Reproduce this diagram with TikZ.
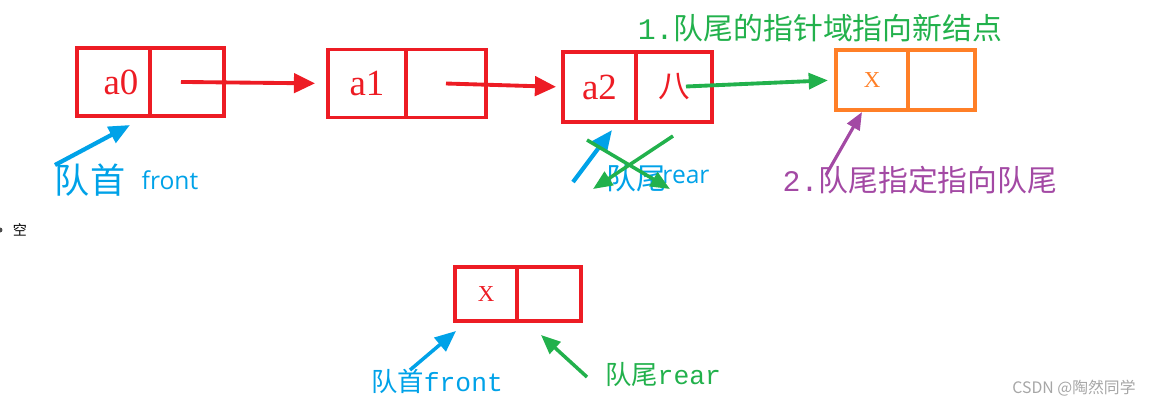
\documentclass[tikz,border=0pt]{standalone}
\usepackage{fontspec}
\setmainfont{Liberation Serif}
\newfontfamily\cjk{Noto Sans CJK SC}
\newfontfamily\mono{Liberation Mono}
\newfontfamily\sansf{Open Sans}
\usetikzlibrary{arrows.meta,positioning}
\definecolor{qred}{RGB}{237,28,36}
\definecolor{qblue}{RGB}{0,162,232}
\definecolor{qgreen}{RGB}{34,177,76}
\definecolor{qorange}{RGB}{255,127,39}
\definecolor{qpurple}{RGB}{163,73,164}
\newcommand{\fsz}[1]{\fontsize{#1}{#1}\selectfont}
\tikzset{
  cell/.style={draw=qred, line width=1.8pt, inner sep=0pt, outer sep=0pt,
    minimum width=1.48cm, minimum height=1.36cm, text=qred, font=\fsz{21pt}\rmfamily},
  redptr/.style={qred, line width=2.2pt, -{Triangle[length=12pt,width=11pt]}},
  blueptr/.style={qblue, line width=2.4pt, -{Triangle[length=12pt,width=10pt]}},
  greenptr/.style={qgreen, line width=2pt, -{Triangle[length=11pt,width=9pt]}},
  purpleptr/.style={qpurple, line width=1.8pt, -{Triangle[length=10pt,width=8pt]}},
}

\begin{document}
\begin{tikzpicture}[x=0.02cm,y=-0.02cm]
  \useasboundingbox (0,0) rectangle (1158,407);
  % queue a0 -> a1 -> a2
  \node[cell, minimum width=1.46cm] (a0) at (113.5,82) {\hspace{0.3cm}a0};
  \node[cell, right=0pt of a0] (a0n) {};
  \node[cell, minimum width=1.56cm] (a1) at (367,83.5) {a1};
  \node[cell, minimum width=1.6cm, right=0pt of a1] (a1n) {};
  \node[cell, minimum width=1.46cm, minimum height=1.4cm] (a2) at (599.5,87) {a2};
  \node[cell, minimum width=1.52cm, minimum height=1.4cm, right=0pt of a2,
    font=\fsz{18pt}\cjk] (a2n) {八};
  \draw[redptr, shorten >=0.26cm, shorten <=-0.12cm] (a0n.center) -- (a1.west);
  \draw[redptr, shorten >=0.14cm] (a1n.center) -- (a2.west);
  % new node
  \node[cell, draw=qorange, text=qorange, minimum width=1.44cm, minimum height=1.2cm,
    font=\fsz{13pt}\rmfamily] (nd) at (872,80) {X};
  \node[cell, draw=qorange, minimum width=1.34cm, minimum height=1.2cm, right=0pt of nd] (ndn) {};
  \draw[qorange, line width=2.6pt] (nd.north east) -- (nd.south east);
  \draw[greenptr, line width=2.2pt, shorten <=0.24cm, shorten >=0.16cm] (a2n.center) -- (nd.west);
  \node[qgreen, font=\fsz{17pt}] (step1) at (820,28) {{\mono 1.}{\cjk 队尾的指针域指向新结点}};
  \node[qpurple, font=\fsz{17pt}] (step2) at (920,180) {{\mono 2.}{\cjk 队尾指定指向队尾}};
  \coordinate (purpleTail) at (826,175);
  \coordinate (purpleTip) at (862,112);
  \draw[purpleptr] (purpleTail) -- (purpleTip);
  % front / rear labels
  \node[qblue, font=\fsz{20pt}\cjk] (headlbl) at (90,180) {队首};
  \node[qblue, font=\fsz{14pt}\sansf] (frontlbl) at (170,180) {front};
  \coordinate (frontTail) at (55,165);
  \coordinate (frontTip) at (130,125);
  \draw[blueptr] (frontTail) -- (frontTip);
  \node[qblue, font=\fsz{17pt}\cjk] (taillbl) at (636,178) {队尾};
  \node[qblue, font=\fsz{14pt}\sansf] (rearlbl) at (686,177) {rear};
  \coordinate (rearTail) at (573,182);
  \coordinate (rearTip) at (612,130);
  \draw[blueptr] (rearTail) -- (rearTip);
  \coordinate (crossA) at (587,140);
  \coordinate (crossB) at (670,189);
  \coordinate (crossC) at (673,136);
  \coordinate (crossD) at (593,189);
  \draw[greenptr] (crossA) -- (crossB);
  \draw[greenptr] (crossC) -- (crossD);
  % empty queue
  \fill[black!70] (0,230) circle (0.05cm);
  \node[font=\fsz{8pt}\cjk] (emptylbl) at (20,230) {空};
  \node[cell, minimum width=1.24cm, minimum height=1.08cm, font=\fsz{13pt}\rmfamily] (bx) at (486,294) {X};
  \node[cell, minimum width=1.28cm, minimum height=1.08cm, right=0pt of bx] (bxn) {};
  \node[qblue, font=\fsz{15pt}] (bheadlbl) at (437,381) {{\cjk 队首}{\mono front}};
  \node[qgreen, font=\fsz{15pt}] (btaillbl) at (663,375) {{\cjk 队尾}{\mono rear}};
  \coordinate (bfrontTail) at (410,370);
  \coordinate (bfrontTip) at (456,331);
  \draw[blueptr, line width=2pt] (bfrontTail) -- (bfrontTip);
  \coordinate (brearTail) at (587,377);
  \coordinate (brearTip) at (541,335);
  \draw[greenptr] (brearTail) -- (brearTip);
  \node[gray!70, font=\fsz{9pt}\cjk] (mark) at (1074,388) {CSDN @陶然同学};
\end{tikzpicture}
\end{document}
